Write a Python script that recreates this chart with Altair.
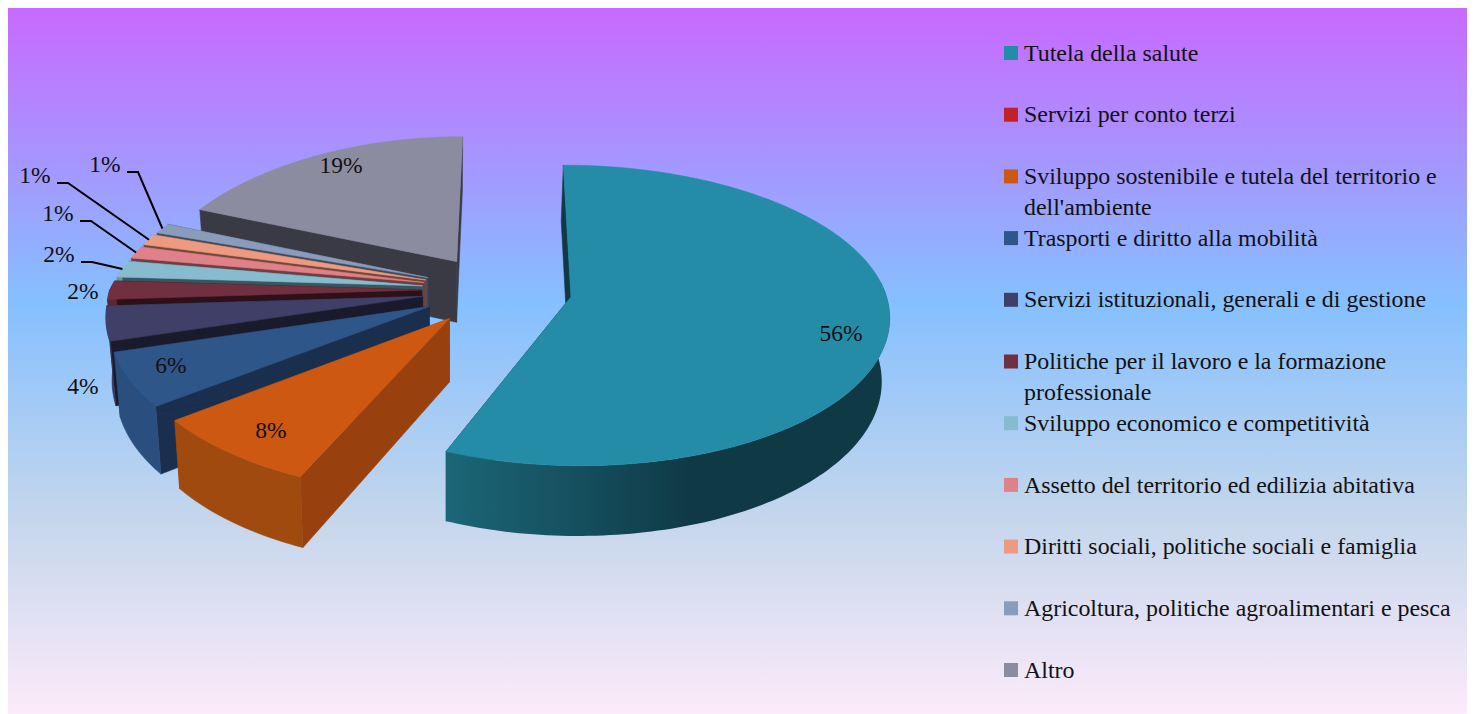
import math
import altair as alt
import pandas as pd

# ---------- data ----------
categories = ["Tutela della salute", "Servizi per conto terzi",
              "Sviluppo sostenibile e tutela del territorio e|dell'ambiente",
              "Trasporti e diritto alla mobilità",
              "Servizi istituzionali,  generali e di gestione",
              "Politiche per il lavoro e la formazione|professionale",
              "Sviluppo economico e competitività",
              "Assetto del territorio ed edilizia abitativa",
              "Diritti sociali, politiche sociali e famiglia",
              "Agricoltura, politiche agroalimentari e pesca", "Altro"]
shares = [56.2, 0.4, 7.9, 5.8, 3.7, 2.0, 1.8, 1.3, 1.2, 1.1, 18.6]
top_colors = ["#258CA8", "#C4202A", "#CD5812", "#2F5688", "#3F3F68", "#70303F",
              "#86BCCD", "#E08088", "#EE9A80", "#8A9CBB", "#8C8CA0"]
radial_colors = ["#0F3A45", "#6A1015", "#98400E", "#1A2E4D", "#191A2C", "#2E1018",
                 "#3A5560", "#6E3E44", "#6E4A3C", "#3E4A5E", "#3A3A44"]
outer_colors = ["#14505E", "#8A1820", "#A04A10", "#2A4F7E", "#37375C", "#5A2632",
                "#6A98A6", "#B06870", "#C07E68", "#707F9A", "#707084"]
bg_stops = [(0, "#C869FF"), (0.42, "#85C0FF"), (0.72, "#C4D6EC"), (1, "#FCEBFA")]

# ---------- layout ----------
W, H = 1459, 706
XC, YC, A_RIGHT, A_LEFT, P = 496.6, 290, 314, 312, 0.113
EXPLODE, DEPTH = 0.24, 62
XS = alt.X("x:Q", axis=None, scale=alt.Scale(domain=[8, 1467]))
YS = alt.Y("y:Q", axis=None, scale=alt.Scale(domain=[714, 8]))


def proj(X, V, d=0.0):
    s = 1 / (1 + P * V)
    sx = 1 / (1 + 0.18 * V) if (X < 0 and V > 0) else s
    x = XC + (A_RIGHT if X > 0 else A_LEFT) * X * sx
    b = 145 if V > 0 else 148
    y = YC - b * V * s + d * s
    if d:
        x = 447 + (x - 447) * 0.982
    return x, y


def ground(mid, th, r=1.0):
    return (EXPLODE * math.sin(mid) + r * math.sin(th),
            EXPLODE * math.cos(mid) + r * math.cos(th))


def polygon(pts, fill, stroke=True):
    pts = pts + pts[:1]
    df = pd.DataFrame({"x": [p[0] for p in pts], "y": [p[1] for p in pts],
                       "i": range(len(pts))})
    kw = {"stroke": fill, "strokeWidth": 0.6} if stroke else {"strokeOpacity": 0}
    return alt.Chart(df).mark_line(fill=fill, **kw).encode(
        x=XS, y=YS, order=alt.Order("i:Q"))


# slice angles
slices, acc = [], 0
for idx, v in enumerate(shares):
    a0 = acc / sum(shares) * 2 * math.pi
    acc += v
    a1 = acc / sum(shares) * 2 * math.pi
    slices.append((idx, a0, a1))

layers = []
bg = alt.Gradient(gradient="linear", x1=0, x2=0, y1=0, y2=1,
                  stops=[alt.GradientStop(offset=o, color=c) for o, c in bg_stops])
layers.append(alt.Chart(pd.DataFrame({"a": [0]})).mark_rect(color=bg).encode(
    x=alt.value(0), x2=alt.value(W), y=alt.value(0), y2=alt.value(H)))

teal_wall = alt.Gradient(gradient="linear", x1=0, x2=1, y1=0, y2=0, stops=[
    alt.GradientStop(offset=0, color="#1B6677"),
    alt.GradientStop(offset=0.3, color="#154F5E"),
    alt.GradientStop(offset=0.55, color="#0F3A45"),
    alt.GradientStop(offset=1, color="#0F3A45")])

order = [10, 9, 8, 7, 6, 5, 4, 3, 2, 0]
for idx in order:
    _, a0, a1 = slices[idx]
    mid = (a0 + a1) / 2
    n = max(4, int((a1 - a0) * 50))
    ths = [a0 + (a1 - a0) * k / n for k in range(n + 1)]
    apex = ground(mid, 0, 0)
    arc = [ground(mid, t) for t in ths]
    top = [proj(*g) for g in arc]
    low = [proj(*g, DEPTH) for g in arc]
    ap, apl = proj(*apex), proj(*apex, DEPTH)
    layers.append(polygon([ap, top[0], low[0], apl], radial_colors[idx]))
    layers.append(polygon([ap, top[-1], low[-1], apl], radial_colors[idx]))
    # only the part of the rim that faces the viewer
    vis = [k for k, t in enumerate(ths) if math.cos(t) < 0.12]
    if len(vis) > 1:
        fill = teal_wall if idx == 0 else outer_colors[idx]
        layers.append(polygon([top[k] for k in vis] + [low[k] for k in vis[::-1]],
                              fill, stroke=idx != 0))
    layers.append(polygon([ap] + top, top_colors[idx]))

# percentage labels and their leader lines
pct_pos = {0: (841, 334), 2: (271, 431), 3: (171, 366), 4: (83, 387), 5: (83, 292),
           6: (59, 255), 7: (58, 214), 8: (35, 176), 9: (105, 165), 10: (341, 166)}
lab = pd.DataFrame({"x": [pct_pos[i][0] for i in pct_pos],
                    "y": [pct_pos[i][1] for i in pct_pos],
                    "t": [f"{round(shares[i])}%" for i in pct_pos]})
for i in (6, 7, 8, 9):
    _, a0, a1 = slices[i]
    mid = (a0 + a1) / 2
    end = proj(*ground(mid, mid))
    lx, ly = pct_pos[i]
    pts = [(lx + 22, ly + 7), (lx + 33, ly + 7), end]
    d = pd.DataFrame({"x": [p[0] for p in pts], "y": [p[1] for p in pts], "i": [0, 1, 2]})
    layers.append(alt.Chart(d).mark_line(color="black", strokeWidth=2).encode(
        x=XS, y=YS, order=alt.Order("i:Q")))
layers.append(alt.Chart(lab).mark_text(font="Liberation Serif", fontSize=23.5, color="#111111",
                                       align="center", baseline="middle").encode(
    x=XS, y=YS, text="t:N"))

# legend
first_row, row_step = 53, 61.7
rows = [first_row + k * row_step for k in range(len(categories))]
leg = pd.DataFrame({"x": [1011] * len(rows), "y": rows, "c": top_colors})
layers.append(alt.Chart(leg).mark_square(size=196, opacity=1).encode(
    x=XS, y=YS, color=alt.Color("c:N", scale=None)))
tx = []
for c, y in zip(categories, rows):
    for j, part in enumerate(c.split("|")):
        tx.append({"x": 1024, "y": y + 0.6 + j * 30.5, "t": part})
layers.append(alt.Chart(pd.DataFrame(tx)).mark_text(
    font="Liberation Serif", fontSize=23.9, color="#111111", align="left", baseline="middle").encode(
    x=XS, y=YS, text="t:N"))

chart = alt.layer(*layers).properties(
    width=W, height=H, padding=0, autosize=alt.AutoSizeParams(type="none")
).configure_view(stroke=None)
chart.save("out.html", embed_options={"renderer": "svg", "actions": False})
